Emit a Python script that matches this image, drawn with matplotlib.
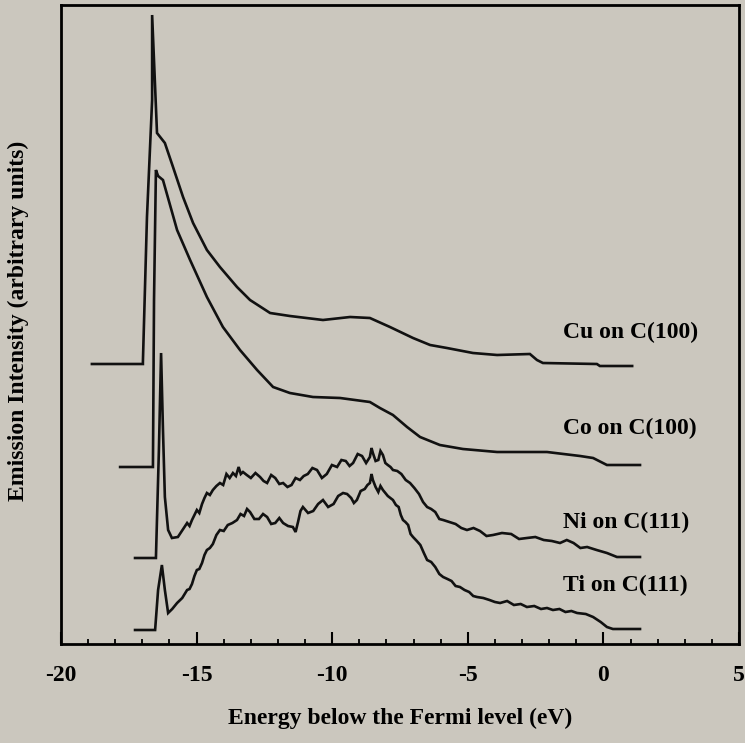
import matplotlib
matplotlib.use("Agg")
import matplotlib.pyplot as plt
from matplotlib.ticker import MultipleLocator, NullLocator

plt.rcParams["font.family"] = ["Liberation Serif", "DejaVu Serif"]
plt.rcParams["font.weight"] = "bold"
plt.rcParams["axes.unicode_minus"] = False

# Cu on C(100)
cu_x = [-18.86, -16.98, -16.98, -16.83, -16.64, -16.64, -16.46, -16.17, -15.87, -15.50,
        -15.13, -14.62, -14.14, -13.51, -13.03, -12.29, -11.56, -10.34, -9.34, -8.61,
        -7.87, -7.02, -6.39, -5.77, -4.81, -3.92, -2.71, -2.45, -2.23, -0.24, -0.13, 1.06]
cu_y = [280, 280, 282, 427, 544, 629, 511, 501, 477, 447,
        421, 394, 377, 357, 344, 331, 328, 324, 327, 326,
        317, 306, 299, 296, 291, 289, 290, 284, 281, 280, 278, 278]

# Co on C(100)
co_x = [-17.82, -16.61, -16.57, -16.50, -16.42, -16.24, -15.72, -15.24, -14.62, -14.03,
        -13.40, -12.77, -12.18, -11.56, -10.71, -9.71, -8.61, -8.24, -7.76, -7.24,
        -6.76, -6.03, -5.18, -3.92, -2.08, -0.86, -0.38, 0.13, 1.35]
co_y = [177, 177, 344, 474, 468, 464, 414, 384, 347, 317,
        294, 274, 257, 251, 247, 246, 242, 236, 229, 217,
        207, 199, 195, 192, 192, 188, 186, 179, 179]

# Ni on C(111)
ni_x = [-17.27, -16.50, -16.39, -16.31, -16.24, -16.17, -16.05, -15.91, -15.69, -15.52,
        -15.35, -15.26, -15.17, -15.08, -14.99, -14.90, -14.80, -14.71, -14.62, -14.51,
        -14.40, -14.27, -14.14, -14.02, -13.90, -13.78, -13.66, -13.55, -13.45, -13.37,
        -13.29, -13.15, -13.00, -12.83, -12.66, -12.53, -12.40, -12.25, -12.10, -11.95,
        -11.81, -11.65, -11.50, -11.35, -11.19, -11.05, -10.90, -10.73, -10.56, -10.38,
        -10.20, -10.01, -9.82, -9.66, -9.50, -9.36, -9.23, -9.06, -8.90, -8.75,
        -8.61, -8.55, -8.50, -8.40, -8.30, -8.22, -8.13, -8.04, -7.95, -7.85,
        -7.76, -7.60, -7.45, -7.29, -7.13, -6.97, -6.80, -6.65, -6.50, -6.35,
        -6.20, -6.05, -5.91, -5.68, -5.45, -5.24, -5.03, -4.79, -4.55, -4.31,
        -4.07, -3.74, -3.40, -3.11, -2.82, -2.51, -2.20, -1.90, -1.60, -1.35,
        -1.10, -0.85, -0.60, -0.25, 0.13, 0.50, 1.35]
ni_y = [86, 86, 194, 291, 214, 147, 114, 106, 107, 114,
        121, 118, 124, 129, 134, 131, 140, 146, 151, 149,
        154, 158, 161, 159, 170, 166, 171, 168, 177, 170,
        172, 169, 166, 171, 167, 163, 161, 169, 166, 160,
        161, 157, 159, 166, 164, 168, 170, 176, 174, 166,
        170, 179, 177, 184, 183, 178, 181, 190, 188, 181,
        187, 196, 191, 183, 184, 193, 189, 181, 179, 177,
        174, 173, 170, 164, 161, 156, 150, 142, 137, 135,
        132, 125, 124, 122, 120, 116, 114, 116, 113, 108,
        109, 111, 110, 105, 106, 107, 104, 103, 101, 104,
        101, 96, 97, 94, 91, 87, 87]

# Ti on C(111)
ti_x = [-17.27, -16.53, -16.42, -16.28, -16.17, -16.05, -15.90, -15.72, -15.53, -15.35,
        -15.26, -15.17, -15.08, -14.99, -14.90, -14.80, -14.71, -14.62, -14.51, -14.40,
        -14.27, -14.14, -14.00, -13.85, -13.68, -13.51, -13.38, -13.25, -13.14, -13.03,
        -12.87, -12.70, -12.55, -12.40, -12.25, -12.10, -11.95, -11.81, -11.63, -11.45,
        -11.35, -11.26, -11.17, -11.08, -10.89, -10.70, -10.52, -10.34, -10.15, -9.95,
        -9.78, -9.60, -9.45, -9.30, -9.20, -9.09, -8.95, -8.80, -8.70, -8.61,
        -8.55, -8.50, -8.40, -8.30, -8.22, -8.13, -7.95, -7.76, -7.65, -7.55,
        -7.47, -7.39, -7.30, -7.20, -7.11, -7.02, -6.88, -6.75, -6.62, -6.50,
        -6.35, -6.20, -6.05, -5.91, -5.75, -5.60, -5.45, -5.29, -5.12, -4.95,
        -4.80, -4.66, -4.43, -4.20, -4.00, -3.81, -3.55, -3.30, -3.05, -2.82,
        -2.55, -2.30, -2.08, -1.86, -1.62, -1.40, -1.18, -0.97, -0.65, -0.38,
        -0.10, 0.13, 0.35, 1.35]
ti_y = [14, 14, 54, 79, 54, 31, 35, 41, 46, 54,
        55, 60, 68, 74, 75, 81, 89, 94, 96, 100,
        109, 114, 113, 119, 121, 124, 130, 128, 135, 132,
        125, 125, 130, 127, 120, 121, 126, 121, 118, 117,
        112, 122, 133, 137, 131, 133, 140, 144, 137, 140,
        148, 151, 150, 146, 141, 144, 153, 155, 159, 161,
        170, 164, 157, 152, 158, 154, 148, 144, 139, 137,
        129, 124, 122, 119, 110, 107, 103, 99, 91, 84,
        82, 77, 70, 67, 65, 63, 58, 57, 54, 52,
        48, 47, 46, 44, 42, 41, 43, 39, 40, 37,
        38, 35, 36, 34, 35, 32, 33, 31, 30, 27,
        22, 17, 15, 15]

series = [
    (cu_x, cu_y, "Cu on C(100)", 312),
    (co_x, co_y, "Co on C(100)", 216),
    (ni_x, ni_y, "Ni on C(111)", 122),
    (ti_x, ti_y, "Ti on C(111)", 59),
]

bg = "#cbc7be"
fig = plt.figure(figsize=(7.45, 7.43), dpi=100, facecolor=bg)
ax = fig.add_axes([61 / 745, 99 / 743, 678 / 745, 639 / 743])
ax.set_facecolor(bg)

for xs, ys, name, label_y in series:
    ax.plot(xs, ys, color="#111111", linewidth=1.9, solid_joinstyle="miter")
    ax.text(-1.49, label_y, name, ha="left", va="center", fontsize=17, fontweight="bold")

ax.set_xlim(-20, 5)
ax.set_ylim(0, 639)

ax.xaxis.set_major_locator(MultipleLocator(5))
ax.xaxis.set_minor_locator(MultipleLocator(1))
ax.yaxis.set_major_locator(NullLocator())
ax.tick_params(axis="x", which="major", direction="in", length=8.5, width=1.5,
               labelsize=17, pad=15, top=False)
ax.tick_params(axis="x", which="minor", direction="in", length=3.6, width=1.3, top=False)

for spine in ax.spines.values():
    spine.set_linewidth(2)

ax.set_xlabel("Energy below the Fermi level (eV)", fontsize=17, fontweight="bold", labelpad=16)
fig.text(18 / 745, 1 - 321 / 743, "Emission Intensity (arbitrary units)", rotation=90,
         ha="center", va="center", fontsize=17, fontweight="bold")

fig.savefig("out.png", dpi=100, facecolor=bg)
